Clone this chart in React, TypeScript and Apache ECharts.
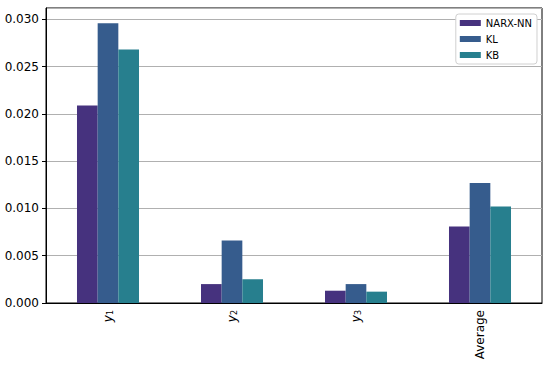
import React, { useEffect, useRef } from "react";
import * as echarts from "echarts";

const categories = ["y1", "y2", "y3", "Average"];
const seriesNames = ["NARX-NN", "KL", "KB"];
const narxValues = [0.0209, 0.002, 0.0013, 0.0081];
const klValues = [0.0296, 0.0066, 0.002, 0.0127];
const kbValues = [0.0268, 0.0025, 0.0012, 0.0102];
const colors = ["#46327e", "#365c8d", "#277f8e"];

const FONT = "DejaVu Sans";

export default function App() {
  const ref = useRef<HTMLDivElement>(null);
  useEffect(() => {
    if (!ref.current) return;
    const chart = echarts.init(ref.current, undefined, { renderer: "svg" });
    const data = [narxValues, klValues, kbValues];
    chart.setOption({
      animation: false,
      grid: {
        left: 46,
        right: 8,
        top: 8,
        bottom: 64,
        show: true,
        borderColor: "#000",
        borderWidth: 1,
        backgroundColor: "transparent",
      },
      legend: {
        orient: "vertical",
        right: 13,
        top: 14,
        data: seriesNames,
        itemWidth: 21,
        itemHeight: 6,
        itemGap: 4,
        icon: "rect",
        backgroundColor: "#fff",
        borderColor: "#d0d0d0",
        borderWidth: 1,
        borderRadius: 3,
        padding: [3, 5, 3, 4],
        textStyle: { fontFamily: FONT, fontSize: 10, color: "#000", lineHeight: 12 },
      },
      xAxis: {
        type: "category",
        data: categories,
        boundaryGap: true,
        axisLine: { lineStyle: { color: "#000", width: 1 } },
        axisTick: { alignWithLabel: true, length: 4, lineStyle: { color: "#000" } },
        axisLabel: {
          rotate: 90,
          margin: 7,
          interval: 0,
          color: "#000",
          fontFamily: FONT,
          fontSize: 12,
          formatter: (v: string) => {
            const m = v.match(/^y(\d)$/);
            if (m) return "{i|y}{s|" + m[1] + "}";
            return v;
          },
          rich: {
            i: { fontFamily: FONT, fontStyle: "italic", fontSize: 12, color: "#000" },
            s: { fontFamily: FONT, fontSize: 8, color: "#000", verticalAlign: "bottom", padding: [4, 0, 0, 0] },
          },
        },
        splitLine: { show: false },
      },
      yAxis: {
        type: "value",
        min: 0,
        max: 0.0312,
        interval: 0.005,
        axisLine: { show: true, lineStyle: { color: "#000", width: 1 } },
        axisTick: { show: true, length: 4, lineStyle: { color: "#000" } },
        axisLabel: {
          margin: 7,
          color: "#000",
          fontFamily: FONT,
          fontSize: 12,
          showMaxLabel: false,
          formatter: (v: number) => v.toFixed(3),
        },
        splitLine: { show: true, lineStyle: { color: "#b0b0b0", width: 1 } },
      },
      series: seriesNames.map((name, i) => ({
        name,
        type: "bar",
        data: data[i],
        barWidth: "16.67%",
        barGap: "0%",
        itemStyle: { color: colors[i] },
      })),
    });
    return () => chart.dispose();
  }, []);
  return <div ref={ref} style={{ width: 550, height: 367, position: "absolute", left: 0, top: 0 }} />;
}
